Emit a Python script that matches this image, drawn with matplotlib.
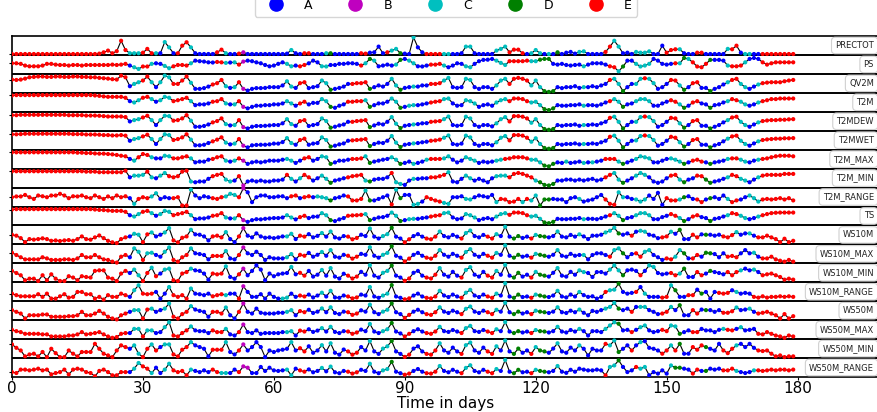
import numpy as np
import matplotlib
matplotlib.use("Agg")
import matplotlib.pyplot as plt
from matplotlib.lines import Line2D
from matplotlib.transforms import blended_transform_factory

# Daily values per variable, scaled to 0-100 inside each variable's strip,
# plus the cluster letter of every day.
PRECTOT = [5,5,5,5,5,5,5,5,5,5, 5,5,5,5,5,5,5,5,5,5,
           7,14,23,9,20,75,26,9,9,9, 12,32,9,9,9,68,40,9,9,49,
           67,40,9,5,5,5,5,14,28,9, 5,5,7,14,5,5,5,5,5,5,
           5,5,5,7,26,9,5,9,9,5, 5,5,9,9,5,5,5,5,5,5,
           9,7,12,14,44,9,14,23,32,9, 7,5,93,40,14,5,5,5,5,5,
           5,5,5,9,44,44,9,5,5,5, 5,23,32,44,14,28,28,9,5,9,
           26,9,5,5,5,14,5,12,16,7, 16,19,5,5,5,5,16,44,75,44,
           9,12,5,16,12,12,19,5,5,49, 12,26,30,30,9,5,5,12,12,5,
           5,5,5,5,32,30,49,12,5,5, 5,5,5,5,5,5,5,5,5,5]
PRECTOT_cl = ("EEEEEEEEEE" "EEEEEEEEEE" "EEEEEEECCC" "EEECACCAEE" "ECAAAAAEEC"
              "AAEBAAAAAA" "AAAACAAEEA" "AACDAAAAAA" "EEAAAAECCD" "AACAAEEEEC"
              "CAAACCAAAA" "ACCCEEEEAC" "CCACADAAAA" "CCAAAAEECC" "AAACCCCAAA"
              "EEECAAAEEA" "AAAACEEACC" "AAEEEEEEEE")

PS = [56,56,53,44,40,40,40,44,53,53, 49,47,47,44,47,47,44,47,47,47,
      47,47,47,49,47,49,53,44,35,26, 39,39,53,56,53,42,30,40,47,47,
      44,56,70,67,65,61,60,63,61,58, 60,61,49,65,70,67,61,56,47,40,
      44,53,61,53,40,44,40,47,56,70, 61,40,39,47,47,53,53,56,56,53,
      44,56,79,70,40,44,49,44,49,74, 79,70,56,40,39,44,49,49,53,44,
      35,44,56,53,40,35,53,67,74,75, 79,70,58,47,67,67,67,67,70,67,
      67,75,79,79,53,49,53,47,44,47, 49,40,49,56,56,56,49,40,35,14,
      39,70,70,53,39,44,53,79,70,53, 49,53,56,56,84,79,61,39,35,53,
      74,74,74,70,44,40,40,44,61,79, 84,79,61,49,56,61,61,61,61,61]
PS_cl = ("EEEEEEEEEE" "EEEEEEEEEE" "EEEEEEEACC" "EECAACCEEE" "ECAAAAAEEC"
         "ACEBAAAAAA" "AAACCAEEAA" "ACCAAAAAAA" "ECDCAAAACD" "ACCAAAEEEC"
         "AAAACCAAAA" "ACCCEEEEEC" "CDDDAAAAAA" "ACAAAAAEEC" "DAACCCCAAA"
         "AAECDCEEEE" "DAAACEEECA" "AAEEEEEEEE")

QV2M = [70,68,70,75,82,84,86,86,84,84, 86,86,84,84,86,86,84,84,82,82,
        79,77,75,72,70,91,82,35,47,56, 65,86,56,30,56,91,82,47,47,65,
        86,53,21,21,25,33,44,51,68,35, 26,30,56,21,12,21,25,25,26,30,
        30,30,39,61,33,26,51,56,25,30, 35,65,51,16,21,26,33,47,47,51,
        51,56,21,30,39,33,47,74,39,16, 26,30,33,33,39,39,47,47,51,65,
        79,30,26,30,74,68,30,21,30,30, 21,39,65,74,47,74,79,74,65,39,
        65,30,9,5,9,30,25,30,30,35, 26,30,30,35,30,39,47,68,74,47,
        9,30,47,47,74,77,74,51,21,30, 47,68,65,39,16,30,51,56,26,26,
        9,21,30,44,56,68,74,47,30,21, 33,44,51,54,56,56,56,61,65,68]
QV2M_cl = ("EEEEEEEEEE" "EEEEEEEEEE" "EEEEEEEACC" "EECACCCEEE" "ECAAAAEEEC"
           "ACEBAAAAAA" "AAACCAEEAA" "ACCDAAAAEE" "EEDAAAACCD" "AACAAAEEEC"
           "CAAACCAAAA" "ACCCEEEEEC" "CCDDDAAAAA" "ACAAAAAECC" "DAACCECCAA"
           "AEECDAEEAA" "DAAACEECCA" "ACEEEEEEEE")

T2M = [86,88,88,88,88,88,88,88,88,88, 88,88,88,88,88,88,88,88,88,86,
       84,81,79,79,79,79,74,56,49,61, 74,79,67,53,61,79,74,56,61,67,
       74,56,35,39,39,44,53,56,67,44, 39,39,56,26,18,26,32,32,35,35,
       39,39,44,56,44,32,44,53,39,47, 47,67,56,26,21,32,39,53,53,56,
       56,61,26,35,44,44,53,70,53,21, 26,32,35,35,39,44,49,53,56,67,
       70,44,32,35,61,56,44,26,35,39, 32,49,61,67,56,70,70,67,56,49,
       53,35,14,9,18,35,32,32,35,35, 39,32,35,35,32,39,49,56,67,53,
       26,39,44,56,67,67,56,32,32,44, 53,61,53,39,21,32,49,56,44,39,
       21,35,39,49,56,67,61,53,39,32, 39,49,56,61,67,67,70,70,70,70]
T2M_cl = ("EEEEEEEEEE" "EEEEEEEEEE" "EEEEEEEACC" "EECACCCEEE" "ECAAAAEEEC"
          "ACEBAAAAAA" "AAACCAEEAA" "ACCDAAAEEE" "ECDAAAACCD" "ACCAAAEEEC"
          "CAAACCCAAA" "ACCCEEEEEC" "CCDDDAAAAA" "ACAAAAAECC" "DAACCCCAAA"
          "AEECDAEEAA" "DAAACEECCA" "ACEEEEEEEE")

T2MDEW = [82,82,84,84,84,84,84,84,84,84, 84,84,84,82,82,82,82,80,80,80,
          79,77,75,75,75,75,72,49,56,61, 70,79,56,30,56,79,77,53,56,65,
          82,53,21,21,25,33,44,51,65,35, 28,30,56,19,12,21,25,25,26,28,
          30,30,39,61,35,26,51,56,25,30, 35,65,51,16,21,28,33,47,47,51,
          53,56,19,28,37,33,47,72,37,14, 26,30,33,35,39,40,47,49,51,61,
          75,30,26,30,74,65,30,21,30,30, 23,39,61,72,49,77,77,74,65,42,
          61,30,9,5,9,30,26,30,30,33, 26,30,30,33,30,39,47,68,74,47,
          12,30,47,47,72,75,72,51,21,30, 47,68,65,39,16,30,51,56,26,26,
          12,21,30,44,56,70,74,47,30,21, 33,44,51,54,56,56,58,58,60,61]
T2MDEW_cl = ("EEEEEEEEEE" "EEEEEEEEEE" "EEEEEEEACC" "EECACCCEEE" "ECAAAAEEEC"
             "ACEBAAAAAA" "AAACCAEEAA" "ACCDAAAAEE" "EEDAAAACCD" "AACAAAEEEC"
             "CAAACCAAAA" "ACCCEEEEEC" "CCDDDAAAAA" "ACAAAAAECC" "DAACCECCAA"
             "AEECDAEEAA" "DAAACEECCA" "ACEEEEEEEE")

T2MWET = [81,81,82,84,84,84,84,84,84,84, 84,84,84,84,82,82,82,80,80,80,
          79,77,77,75,75,77,74,47,56,61, 70,79,56,30,56,81,77,51,56,65,
          81,53,23,23,26,35,44,53,65,37, 28,32,56,21,12,23,25,26,26,28,
          32,32,40,61,35,26,51,58,26,32, 35,65,51,16,21,28,33,47,49,51,
          53,56,19,30,37,35,47,72,37,14, 26,30,33,35,39,42,47,49,53,63,
          75,30,26,32,74,65,30,21,30,30, 23,39,63,72,49,77,77,74,63,42,
          60,30,9,5,9,30,26,30,30,33, 28,30,30,33,30,39,47,68,74,47,
          12,30,47,49,72,75,72,51,21,30, 47,68,63,39,16,30,51,56,26,26,
          12,23,30,44,58,70,74,47,30,21, 33,44,51,54,56,58,58,60,60,61]
T2MWET_cl = ("EEEEEEEEEE" "EEEEEEEEEE" "EEEEEEEACC" "EECACCCEEE" "ECAAAAEEEC"
             "ACEBAAAAAA" "AAACCAEEAA" "ACCDAAAAEE" "EEDAAAACCD" "AACAAAEEEC"
             "CAAACCAAAA" "ACCCEEEEEC" "CCDDDAAAAA" "ACAAAAAECC" "DAACCECCAA"
             "AEECDAEEAA" "DAAACEECCA" "ACEEEEEEEE")

T2M_MAX = [86,86,86,86,86,86,86,86,86,86, 86,86,86,86,86,84,84,82,82,80,
           79,79,77,75,72,68,65,51,42,60, 77,72,60,54,54,68,65,54,54,60,
           65,54,33,37,37,47,51,60,65,42, 37,42,54,42,25,33,37,33,37,42,
           42,42,47,51,42,30,42,54,60,42, 51,65,60,25,33,42,42,47,51,51,
           54,65,30,37,42,47,51,60,47,25, 30,37,25,30,37,47,51,51,51,54,
           65,47,33,42,60,51,42,30,37,33, 37,42,47,51,54,60,60,60,54,47,
           47,33,16,12,25,33,30,37,30,33, 37,30,33,33,37,42,51,51,51,37,
           25,33,42,51,65,60,54,33,33,42, 51,54,47,37,25,33,42,47,37,33,
           25,33,37,42,51,54,54,47,37,33, 42,47,51,54,60,65,68,68,68,65]
T2M_MAX_cl = ("EEEEEEEEEE" "EEEEEEEEEE" "EEEEEEEACE" "EECAACCEEE" "ECAAAAEEEC"
              "ACEBAAAAAA" "AAACCAAEEA" "ACCDAAAAEE" "ECDAAAACCD" "AACAACEEEC"
              "CAAACCCAAA" "ACCEEEEEEC" "CCDDDAACAA" "ACACAAEEEC" "DAACCCCAAA"
              "ACCCDAEEEA" "DAAACEECCA" "ACEEEEEEEE")

T2M_MIN = [86,86,86,86,86,86,86,86,86,86, 86,86,86,86,86,86,86,84,84,84,
           81,81,81,81,81,81,89,54,63,63, 67,84,54,49,63,77,60,54,60,84,
           89,32,28,32,32,46,60,67,72,42, 32,37,60,11,32,37,32,37,32,32,
           37,37,42,67,46,32,49,67,54,37, 49,63,46,25,37,42,49,54,60,63,
           67,37,32,42,46,46,54,77,28,19, 14,37,46,46,49,49,54,54,60,67,
           81,32,28,46,63,49,37,46,37,28, 49,60,63,63,54,72,77,72,63,54,
           37,28,14,11,19,37,37,42,42,37, 42,37,42,46,37,42,54,67,77,42,
           25,37,49,63,77,67,54,32,25,32, 49,63,67,42,28,42,49,63,60,42,
           25,32,37,46,54,67,60,46,37,28, 42,54,63,67,67,67,67,72,72,72]
T2M_MIN_cl = ("EEEEEEEEEE" "EEEEEEEEEE" "EEEEEEEACC" "CECACCEEEE" "ECAAAAEEEC"
              "CAEBAAAAAA" "AAAECACEEA" "ACCDAAAEEE" "ECDAAAAECC" "AACAAAEEEE"
              "CAAACCAAAA" "ACCCEEEEEE" "CDDDDAAAAA" "AAAAAAEECC" "DAACCCAAAA"
              "AEECDAAEED" "DAAACEECCA" "ACEEEEEEEE")

T2M_RANGE = [49,53,53,61,49,40,58,54,49,58, 58,67,58,44,54,53,58,49,44,58,
             49,40,53,44,58,49,54,44,14,40, 49,44,53,70,40,49,44,44,49,5,
             5,89,58,44,54,49,44,40,49,53, 67,61,49,96,75,23,49,58,58,49,
             49,53,54,44,54,58,44,49,54,49, 53,49,44,32,44,49,58,53,32,32,
             40,84,32,32,40,49,58,11,89,44, 61,61,9,14,26,49,40,32,26,19,
             14,49,49,54,40,37,49,58,54,49, 61,23,40,37,23,26,40,23,40,32,
             58,5,37,37,40,37,37,23,44,49, 40,26,32,37,49,61,37,14,9,75,
             49,49,40,37,26,37,58,40,72,9, 44,32,32,37,49,54,40,37,23,37,
             44,49,40,58,40,23,32,37,49,58, 44,26,37,40,37,40,44,37,44,32]
T2M_RANGE_cl = ("EEEEEEEEEE" "EEEEEEEEEE" "EEEEEEEACE" "EECCAAAEEE" "ECAAAAEEEC"
                "CCEBAAAAAA" "AAAAEEAEEA" "CCCDAAAEEE" "ECDAAAAECD" "AACCAEEEEC"
                "CAAACCAAAA" "ACEEEEECEC" "CDDDAAAAAA" "CAAAAAEEEC" "CAACCCAAAA"
                "EEECDAAEEA" "DAAACEEAAC" "CCEEEEEEEE")

TS = [84,86,86,86,86,86,86,86,86,86, 86,86,86,86,86,86,86,86,86,84,
      82,81,79,77,77,77,72,54,47,60, 72,77,65,51,60,77,72,54,60,65,
      72,54,33,37,37,42,51,54,65,42, 37,37,54,28,19,28,33,32,35,37,
      39,39,42,54,42,32,44,51,39,46, 47,65,54,28,23,32,39,51,53,54,
      56,60,28,35,42,44,51,68,51,23, 28,33,35,35,39,42,47,51,54,65,
      68,42,33,37,60,54,42,28,35,39, 33,47,60,65,56,68,68,65,54,47,
      51,35,16,12,19,35,33,33,35,35, 39,33,35,35,33,39,47,54,65,51,
      28,39,44,54,65,65,54,33,33,44, 51,60,51,39,23,33,47,54,44,39,
      23,35,39,47,54,65,60,51,39,33, 39,47,54,60,65,67,68,68,68,68]
TS_cl = ("EEEEEEEEEE" "EEEEEEEEEE" "EEEEEEEACC" "EECACCCEEE" "ECAAAAEEEC"
         "ACEBAAAAAA" "AAACCAEEAA" "ACCDAAAEEE" "ECDAAAACCD" "ACCAAAEEEC"
         "CAAACCCAAA" "ACCCEEEEEC" "CCDDDAAAAA" "ACAAAAAECC" "DAACCCCAAA"
         "AEECDAEEAA" "DAAACEECCA" "ACEEEEEEEE")

WS10M = [51,46,33,12,28,25,28,32,28,19, 21,18,21,23,19,28,42,28,25,37,
         47,33,19,11,7,28,37,42,56,51, 12,53,63,42,51,63,86,21,11,35,
         42,77,53,51,42,21,42,46,37,65, 28,12,42,86,46,37,58,42,35,37,
         33,37,42,42,56,28,
         46,41,54,37,45,60,41,68,37,31, 44,41,27,34,51,44,84,41,31,44,
         54,88,41,31,11,27,44,54,41,31, 27,41,68,44,37,50,41,31,60,73,
         44,37,50,41,31,54,44,93,41,31, 44,34,41,31,50,44,41,37,44,68,
         41,37,50,41,
         53,42,28,46,46,51,63,72,88,58, 51,58,46,67,72,67,51,46,33,37,
         42,67,56,77,28,28,51,37,53,51, 51,46,51,42,37,49,65,51,58,58,
         46,37,37,46,37,28,12,30,12,19]
WS10M_cl = ("EEEEEEEEEE" "EEEEEEEEEE" "EEEEEEEACC" "EECAACCEEE" "ECAAAAEEEC"
            "AAEBAAAAAA" "AAACCA"
            "EEAA" "ACACAAAEEE" "AACAACCDAA" "EEAAAEEECA" "AAAECCAAAE"
            "ECACADDAAE" "CDDAACAAAA"
            "CAAAAACCCD" "AAEACCAAAE" "ECADAAEEAD" "AAAEEECAAC" "AEEEEEEEEE")

WS10M_MAX = [56,44,32,21,21,21,21,32,26,18, 18,18,21,21,18,26,44,32,32,44,
             32,21,18,9,4,35,44,32,79,61, 18,53,56,44,35,61,84,18,9,32,
             44,79,53,49,44,21,39,39,39,65, 26,21,44,84,53,44,61,44,18,32,
             26,26,26,32,49,21,
             45,40,55,35,45,60,40,70,35,30, 45,40,25,35,50,45,85,40,30,45,
             55,90,40,30,10,25,45,55,40,30, 25,40,70,45,35,50,40,30,60,75,
             45,35,50,40,30,55,45,95,40,30, 45,35,40,30,50,45,40,35,45,70,
             40,35,50,40,
             44,44,21,44,53,53,44,35,70,79, 53,32,49,53,35,61,70,44,32,18,
             26,21,35,70,53,26,26,44,35,56, 53,49,32,53,35,39,32,53,70,53,
             56,35,26,26,35,21,14,9,18,9]
WS10M_MAX_cl = ("EEEEEEEEEE" "EEEEEEEEEE" "EEEEEEEACC" "ECCAACCEEE" "ECAAAAEEEC"
                "AAEBAAAAAA" "AAACCA"
                "EEAA" "ACACAAAEEE" "AACAACCDAA" "EEAAAEEECA" "AAAECCAAAE"
                "ECACADDAAE" "CDDAACAAAA"
                "ACAAAAAECC" "DAAEECCAAA" "EECCDAEEAD" "DAAAEEEAAA" "CAEEEEEEEE")

WS10M_MIN = [60,49,37,11,19,19,7,37,11,42, 19,7,7,32,25,11,32,28,25,60,
             63,63,25,19,7,46,60,49,67,37, 7,49,77,32,46,67,72,11,7,46,
             54,72,63,60,46,14,46,42,46,84, 28,19,42,72,37,60,89,67,11,46,
             32,42,46,49,81,42,
             50,35,60,30,40,65,35,75,30,20, 45,35,20,30,55,40,90,35,25,50,
             60,88,35,25,8,20,50,60,35,25, 20,40,75,40,30,55,35,25,65,80,
             40,30,55,35,25,60,40,92,35,25, 50,30,40,25,55,40,35,30,50,75,
             35,30,55,40,
             63,54,49,28,54,54,46,67,89,63, 37,63,67,60,37,60,89,81,49,42,
             46,49,37,46,72,28,28,54,37,46, 60,54,49,42,54,37,54,63,72,63,
             67,54,37,42,46,37,28,14,19,14]
WS10M_MIN_cl = ("EEEEEEEEEE" "EEEEEEEEEE" "EEEEEEEACC" "EECEACCEEE" "ECAAAAEEEC"
                "AAEBAAAAAA" "AAAACA"
                "EEAA" "ACACAAAEEE" "AACAACCDAA" "EEAAAEEECA" "AAAECCAAAE"
                "ECACADDAAE" "CDDAACAAAA"
                "CCAAAAACCC" "DAAAEACCAA" "AEECDAAEEA" "DAAAEEECAA" "CAEEEEEEEE")

WS10M_RANGE = [40,32,26,26,26,26,37,23,40,14, 14,26,37,19,23,49,49,37,37,14,
               23,9,32,23,23,40,32,23,58,84, 40,37,40,49,14,40,75,32,23,32,
               14,67,40,37,32,40,26,32,37,32, 40,40,14,79,49,23,23,37,14,40,
               23,14,14,19,40,23,
               30,25,35,20,30,45,25,55,20,18, 30,25,15,20,35,30,75,25,18,30,
               40,85,25,18,10,15,30,40,25,18, 15,25,55,30,22,35,25,18,45,60,
               30,22,35,25,18,40,30,95,25,18, 35,22,25,18,35,30,25,22,30,55,
               25,20,35,25,
               49,32,23,26,14,23,49,58,61,93, 49,40,44,49,75,40,23,23,23,19,
               23,84,58,23,23,32,32,61,40,49, 14,49,44,40,44,58,49,40,44,40,
               23,19,26,19,23,23,26,23,26,23]
WS10M_RANGE_cl = ("EEEEEEEEEE" "EEEEEEEEEE" "EEEEEEEACC" "EEEAAACEEE" "ECAAAAEEEC"
                  "AAEBAAAAAA" "AACCAA"
                  "EEAA" "ACACAAAEEE" "AACAACCDAA" "EEAAAEEECA" "AAAECCAAAE"
                  "ECACADDAAE" "CDDAACAAAA"
                  "CAAAAAECCD" "AAAEACAAAE" "ECDAAEEADA" "AAEEEACAAA" "EEEEEEEEEE")

WS50M = [53,44,35,9,26,26,26,30,30,18, 18,18,18,21,21,26,44,26,26,35,
         49,35,18,9,4,26,35,44,53,53, 9,56,61,44,53,61,88,18,9,32,
         44,74,56,49,44,18,44,44,35,67, 26,9,44,88,44,35,61,39,35,35,
         35,39,39,44,53,26,
         48,42,55,38,45,62,42,68,38,32, 45,42,28,35,52,45,82,42,32,45,
         55,88,42,32,12,28,45,55,42,32, 28,42,68,45,38,50,42,32,60,72,
         45,38,50,42,32,55,45,92,42,32, 45,35,42,32,50,45,42,38,45,68,
         42,38,50,42,
         56,39,26,49,44,53,61,70,91,61, 53,61,44,70,70,70,53,44,32,35,
         44,70,53,79,26,26,53,35,56,53, 53,44,53,39,39,47,67,53,56,61,
         44,35,39,44,35,26,9,32,9,21]
WS50M_cl = ("EEEEEEEEEE" "EEEEEEEEEE" "EEEEEEEACC" "EECAACCEEE" "ECAAAAEEEC"
            "AAEBAAAAAA" "AAACCA"
            "EEAA" "ACACAAAEEE" "AACAACCDAA" "EEAAAEEECA" "AAAECCAAAE"
            "ECACADDAAE" "CDDAACAAAA"
            "CAAAAACCCD" "AAEACCAAAE" "ECADAAEEAD" "AAAEEECAAC" "AEEEEEEEEE")

WS50M_MAX = [49,42,37,28,28,28,28,25,25,14, 14,14,14,19,19,25,37,25,28,32,
             37,25,14,7,11,28,32,32,54,54, 14,46,46,32,37,63,89,19,14,32,
             46,67,46,42,42,32,46,37,37,54, 25,19,37,77,37,32,46,28,32,32,
             32,32,37,37,42,19,
             45,40,52,38,45,58,40,65,38,32, 42,40,28,35,50,42,80,40,32,42,
             52,85,40,30,14,28,42,52,40,32, 28,40,65,42,38,48,40,32,58,70,
             42,38,48,40,32,52,42,90,40,32, 42,35,40,32,48,42,40,35,42,65,
             40,35,48,40,
             54,42,19,42,42,37,54,72,89,81, 46,49,37,49,63,72,46,37,42,49,
             42,72,67,28,37,46,37,37,54,46, 46,37,49,54,49,46,54,63,46,49,
             54,28,25,37,28,19,14,7,19,14]
WS50M_MAX_cl = ("EEEEEEEEEE" "EEEEEEEEEE" "EEEEEEEACC" "ECCAACCEEE" "ECAAAAEEEC"
                "AAEBAAAAAA" "AAACCA"
                "EEAA" "ACACAAAEEE" "AACAACCDAA" "EEAAAEEECA" "AAAECCAAAE"
                "ECACADDAAE" "CDDAACAAAA"
                "CAAAAACCCD" "AAEACCAAAE" "ECCDAAEEAA" "AAACEEACAA" "AEEEEEEEEE")

WS50M_MIN = [72,54,40,9,19,23,9,32,5,49, 26,5,5,40,23,9,32,32,32,75,
             49,23,14,5,40,67,58,49,67,23, 5,49,72,40,58,72,72,19,9,44,
             58,84,67,58,49,9,44,44,44,84, 32,19,40,72,40,58,84,58,5,40,
             32,40,44,49,84,40,
             52,35,62,28,40,68,35,78,28,18, 45,35,18,28,58,40,90,35,22,50,
             62,90,35,22,6,18,50,62,35,22, 18,40,78,40,28,55,35,22,68,82,
             40,28,55,35,22,62,40,93,35,22, 50,28,40,22,58,40,35,28,50,78,
             35,28,55,40,
             67,49,14,49,40,40,75,67,93,32, 49,67,40,67,84,89,54,49,40,23,
             40,67,40,75,23,23,58,44,67,58, 49,40,75,40,26,49,67,75,58,75,
             54,40,37,40,23,9,14,5,9,9]
WS50M_MIN_cl = ("EEEEEEEEEE" "EEEEEEEEEE" "EEEEEEEACC" "EECEACCEEE" "ECAAAAEEEC"
                "AAEBAAAAAA" "AAAACA"
                "EEAA" "ACACAAAEEE" "AACAACCDAA" "EEAAAEEECA" "AAAECCAAAE"
                "ECACADDAAE" "CDDAACAAAA"
                "CAAAAAECCD" "AAEACAAAAE" "ECEDAAEEED" "AAAEEECAAA" "AEEEEEEEEE")

WS50M_RANGE = [26,21,39,39,35,39,44,35,39,14, 21,26,39,14,39,44,39,26,21,4,
               32,39,26,9,9,26,26,26,44,74, 56,44,21,49,21,39,70,35,26,32,
               9,39,32,26,35,26,39,26,21,21, 21,39,26,56,49,21,21,53,32,49,
               35,32,35,39,9,44,
               35,28,40,25,32,48,30,55,25,20, 32,28,18,25,38,32,70,28,20,35,
               42,80,28,20,12,18,32,42,28,20, 18,28,58,32,25,38,28,20,48,62,
               32,25,38,28,20,42,32,90,28,20, 38,25,28,20,38,32,28,25,32,58,
               28,22,38,28,
               44,39,35,35,39,35,9,53,61,88, 53,26,35,53,44,53,9,26,18,35,
               18,61,49,49,44,39,18,39,32,32, 44,39,44,35,35,44,32,26,21,26,
               35,35,32,35,39,35,39,39,35,39]
WS50M_RANGE_cl = ("EEEEEEEEEE" "EEEEEEEEEE" "EEEEEEEACC" "EECAACCEEE" "ECAAAAEECC"
                  "AAEBBAAAAA" "AAACCA"
                  "EEAA" "ACACAAAEEE" "AACAACCDAA" "EEAAAEEECA" "AAAECCAAAE"
                  "ECACADDAAE" "CDDAACAAAA"
                  "AAAAAAECCD" "AAAECCAAAA" "ACDDAAEEAD" "AAAEEECAAA" "CEEEEEEEEE")

variables = ["PRECTOT", "PS", "QV2M", "T2M", "T2MDEW", "T2MWET", "T2M_MAX",
             "T2M_MIN", "T2M_RANGE", "TS", "WS10M", "WS10M_MAX", "WS10M_MIN",
             "WS10M_RANGE", "WS50M", "WS50M_MAX", "WS50M_MIN", "WS50M_RANGE"]
values = [PRECTOT, PS, QV2M, T2M, T2MDEW, T2MWET, T2M_MAX, T2M_MIN, T2M_RANGE,
          TS, WS10M, WS10M_MAX, WS10M_MIN, WS10M_RANGE, WS50M, WS50M_MAX,
          WS50M_MIN, WS50M_RANGE]
clusters = [PRECTOT_cl, PS_cl, QV2M_cl, T2M_cl, T2MDEW_cl, T2MWET_cl, T2M_MAX_cl,
            T2M_MIN_cl, T2M_RANGE_cl, TS_cl, WS10M_cl, WS10M_MAX_cl, WS10M_MIN_cl,
            WS10M_RANGE_cl, WS50M_cl, WS50M_MAX_cl, WS50M_MIN_cl, WS50M_RANGE_cl]

cluster_names = ["A", "B", "C", "D", "E"]
cluster_colors = ["b", "m", "c", "g", "r"]
xticks = [0, 30, 60, 90, 120, 150, 180]

bad = [(n, len(v), len(c)) for n, v, c in zip(variables, values, clusters)
       if len(v) != 180 or len(c) != 180]
if bad:
    raise ValueError(f"length mismatch: {bad}")

W, H = 878, 412
fig = plt.figure(figsize=(W / 100, H / 100), dpi=100)
ax = fig.add_axes([12 / W, 1 - 377 / H, 1 - 12 / W + 0.002, (377 - 36) / H])

color_of = dict(zip(cluster_names, cluster_colors))
n = len(variables)
label_tf = blended_transform_factory(fig.transFigure, ax.transData)
tick_pos = []
for i, (name, vals, cl) in enumerate(zip(variables, values, clusters)):
    base = n - 1 - i
    y = base + np.asarray(vals, dtype=float) / 100.0
    x = np.arange(len(y))
    ax.plot(x, y, color="k", lw=0.8, zorder=2)
    ax.scatter(x, y, c=[color_of[c] for c in cl], s=9, linewidths=0, zorder=3)
    if base > 0:
        ax.axhline(base, color="k", lw=1.4, zorder=1)
    tick_pos.append(y[0])
    ax.text(874 / W, base + 0.5, name, transform=label_tf, ha="right", va="center",
            fontsize=6, color="#222222", zorder=5,
            bbox=dict(boxstyle="round,pad=0.45", fc="white", ec="#d0d0d0", lw=0.8))

ax.set_xlim(0, (W - 12) / ((796 - 12) / 180))
ax.set_ylim(0, n)
ax.set_yticks(tick_pos)
ax.set_yticklabels([])
ax.tick_params(axis="y", length=2.5, width=0.8)
ax.set_xticks(xticks)
ax.tick_params(axis="x", labelsize=11, length=2, pad=1)
ax.set_xlabel("Time in days", fontsize=11, labelpad=0)
for s in ("top", "bottom", "left"):
    ax.spines[s].set_linewidth(1.2)
ax.spines["right"].set_visible(False)

handles = [Line2D([], [], ls="none", marker="o", ms=9.5, color=c, mec=c)
           for c in cluster_colors]
fig.legend(handles, cluster_names, loc="lower center", ncol=5,
           bbox_to_anchor=(446 / W, 1 - 23 / H), fontsize=9, handlelength=2.5,
           handletextpad=1.0, columnspacing=2.2, frameon=True)

fig.savefig("out.png", dpi=100)
